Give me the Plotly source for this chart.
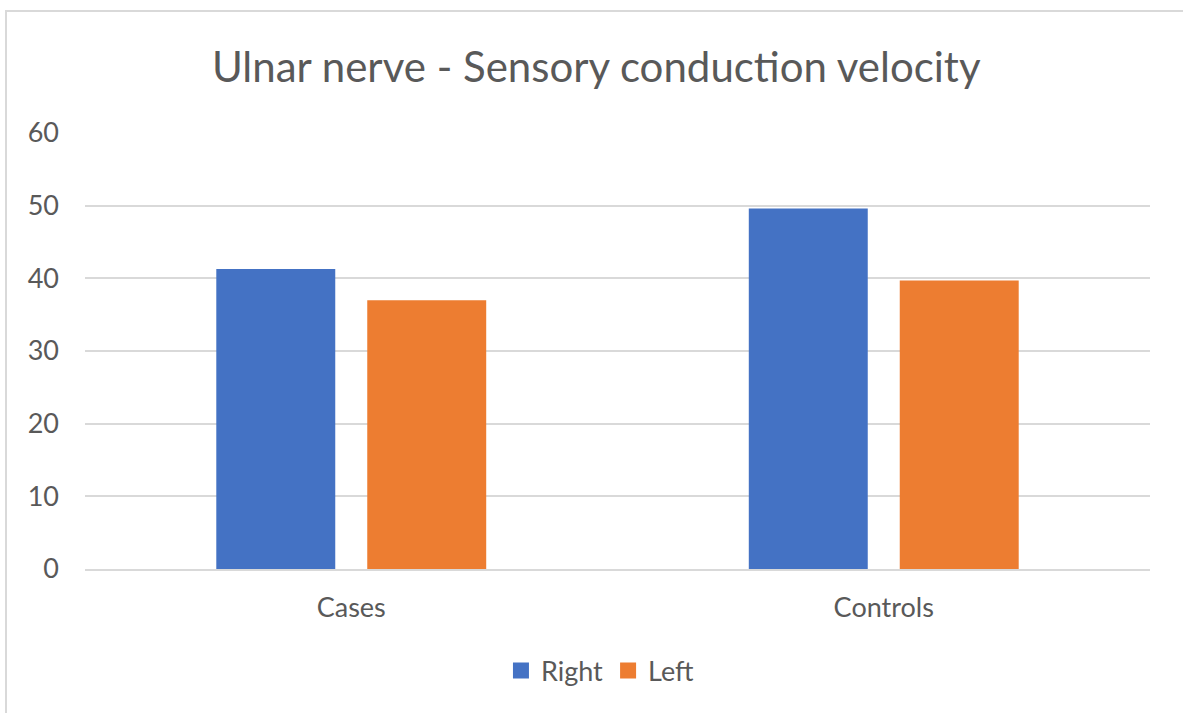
import plotly.graph_objects as go

categories = ["Cases", "Controls"]
right_values = [41.3, 49.6]
left_values = [37.0, 39.7]
y_ticks = [0, 10, 20, 30, 40, 50, 60]
series_names = ["Right", "Left"]
series_colors = ["#4472C4", "#ED7D31"]

FONT = "Lato"
TXT = "#595959"

fig = go.Figure()
for name, vals, col in zip(series_names, [right_values, left_values], series_colors):
    fig.add_trace(go.Bar(name=name, x=categories, y=vals, showlegend=False,
                         marker=dict(color=col, line=dict(width=0))))
for name, col in zip(series_names, series_colors):
    fig.add_trace(go.Scatter(name=name, x=[None], y=[None], mode="markers",
                             marker=dict(symbol="square", size=16, color=col), showlegend=True))

fig.update_layout(
    width=1183, height=713,
    paper_bgcolor="white", plot_bgcolor="white",
    margin=dict(l=85, r=33, t=133, b=144),
    barmode="group", bargap=0.433, bargroupgap=0.212,
    title=dict(text="Ulnar nerve - Sensory conduction velocity", x=0.504, xanchor="center",
               y=1 - 67 / 713, yanchor="middle", font=dict(family=FONT, size=42, color=TXT)),
    font=dict(family=FONT, color=TXT, size=27),
    legend=dict(orientation="h", x=0.484, xanchor="center", y=-0.234, yanchor="middle",
                font=dict(family=FONT, size=27, color=TXT), itemwidth=30, traceorder="normal"),
    xaxis=dict(showgrid=False, showline=True, linecolor="#d9d9d9", linewidth=2,
               tickfont=dict(family=FONT, size=27, color=TXT), ticks="", ticklabelstandoff=14),
    yaxis=dict(range=[0, 60], tickvals=y_ticks, showgrid=True, gridcolor="#d9d9d9", gridwidth=2,
               zeroline=False, showline=False, tickfont=dict(family=FONT, size=27, color=TXT),
               ticks="", ticklabelstandoff=25),
    shapes=[dict(type="rect", xref="paper", yref="paper",
                 x0=(6 - 85) / 1065, x1=1.2, y0=-1, y1=(569 - 11) / 436,
                 line=dict(color="#d9d9d9", width=2), fillcolor="rgba(0,0,0,0)", layer="below")],
)

fig.write_html("out.html", config={"displayModeBar": False},
               post_script="document.body.style.margin='0';")
